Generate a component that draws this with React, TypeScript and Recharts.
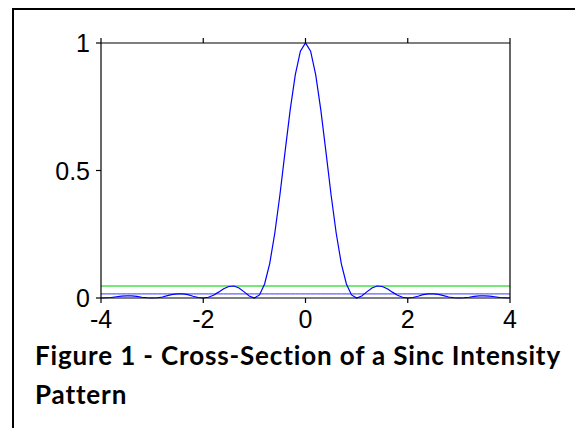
import { LineChart, Line, XAxis, YAxis } from "recharts";

// intensity cross-section, x from -4 to 4 in steps of 0.1
const positions = [
	-4, -3.9, -3.8, -3.7, -3.6, -3.5, -3.4, -3.3, -3.2, -3.1,
	-3, -2.9, -2.8, -2.7, -2.6, -2.5, -2.4, -2.3, -2.2, -2.1,
	-2, -1.9, -1.8, -1.7, -1.6, -1.5, -1.4, -1.3, -1.2, -1.1,
	-1, -0.9, -0.8, -0.7, -0.6, -0.5, -0.4, -0.3, -0.2, -0.1,
	0,
	0.1, 0.2, 0.3, 0.4, 0.5, 0.6, 0.7, 0.8, 0.9, 1,
	1.1, 1.2, 1.3, 1.4, 1.5, 1.6, 1.7, 1.8, 1.9, 2,
	2.1, 2.2, 2.3, 2.4, 2.5, 2.6, 2.7, 2.8, 2.9, 3,
	3.1, 3.2, 3.3, 3.4, 3.5, 3.6, 3.7, 3.8, 3.9, 4,
];

const intensity = [
	0, 0.001, 0.002, 0.005, 0.007, 0.008, 0.008, 0.006, 0.003, 0.001,
	0, 0.001, 0.004, 0.009, 0.014, 0.016, 0.016, 0.013, 0.007, 0.002,
	0, 0.003, 0.011, 0.023, 0.036, 0.045, 0.047, 0.039, 0.024, 0.008,
	0, 0.012, 0.055, 0.135, 0.255, 0.405, 0.573, 0.737, 0.875, 0.968,
	1,
	0.968, 0.875, 0.737, 0.573, 0.405, 0.255, 0.135, 0.055, 0.012, 0,
	0.008, 0.024, 0.039, 0.047, 0.045, 0.036, 0.023, 0.011, 0.003, 0,
	0.002, 0.007, 0.013, 0.016, 0.016, 0.014, 0.009, 0.004, 0.001, 0,
	0.001, 0.003, 0.006, 0.008, 0.008, 0.007, 0.005, 0.002, 0.001, 0,
];

// horizontal reference levels (first and second side-lobe heights)
const firstLobeLevel = 0.047;
const secondLobeLevel = 0.016;

const xTicks = [-4, -2, 0, 2, 4];
const yTicks = [0, 0.5, 1];

const data = positions.map((x, i) => ({
	x,
	intensity: intensity[i],
	first: firstLobeLevel,
	second: secondLobeLevel,
}));

const FONT = "'Liberation Sans', Arial, sans-serif";
const TICK_SIZE = 25;
const axisStroke = { stroke: "#000", strokeWidth: 1.2 };

function BottomTick(props: any) {
	const { x, y, payload } = props;
	return (
		<text x={x} y={y} dy="0.72em" textAnchor="middle" fontFamily={FONT} fontSize={TICK_SIZE} fill="#000">
			{payload.value}
		</text>
	);
}

function LeftTick(props: any) {
	const { x, y, payload } = props;
	return (
		<text x={x} y={y} dy="0.36em" textAnchor="end" fontFamily={FONT} fontSize={TICK_SIZE} fill="#000">
			{payload.value}
		</text>
	);
}

export default function App() {
	return (
		<div style={{ position: "absolute", left: 0, top: 0, width: 575, height: 428, background: "#fff", overflow: "hidden" }}>
			<div
				style={{
					position: "absolute",
					left: 12,
					top: 8,
					width: 575,
					height: 440,
					borderTop: "2px solid #000",
					borderLeft: "2px solid #000",
				}}
			/>
			<div style={{ position: "absolute", left: 0, top: 0 }}>
				<LineChart width={575} height={340} data={data} margin={{ top: 33, right: 55, left: 0, bottom: 0 }}>
					<XAxis
						xAxisId="bottom"
						dataKey="x"
						type="number"
						domain={[-4, 4]}
						ticks={xTicks}
						height={42}
						tickSize={5}
						tickMargin={7}
						tick={<BottomTick />}
						axisLine={axisStroke}
						tickLine={axisStroke}
					/>
					<XAxis
						xAxisId="top"
						orientation="top"
						dataKey="x"
						type="number"
						domain={[-4, 4]}
						ticks={xTicks}
						height={10}
						tickSize={5}
						tickFormatter={() => ""}
						axisLine={axisStroke}
						tickLine={axisStroke}
					/>
					<YAxis
						yAxisId="left"
						type="number"
						domain={[0, 1]}
						ticks={yTicks}
						width={101}
						tickSize={5}
						tickMargin={6}
						tick={<LeftTick />}
						axisLine={axisStroke}
						tickLine={axisStroke}
					/>
					<YAxis
						yAxisId="right"
						orientation="right"
						type="number"
						domain={[0, 1]}
						ticks={yTicks}
						width={10}
						tickSize={5}
						tickFormatter={() => ""}
						axisLine={axisStroke}
						tickLine={axisStroke}
					/>
					<Line
						xAxisId="bottom"
						yAxisId="left"
						type="linear"
						dataKey="first"
						stroke="#77e877"
						strokeWidth={2}
						dot={false}
						isAnimationActive={false}
					/>
					<Line
						xAxisId="bottom"
						yAxisId="left"
						type="linear"
						dataKey="second"
						stroke="#3a3aff"
						strokeWidth={1}
						dot={false}
						isAnimationActive={false}
					/>
					<Line
						xAxisId="bottom"
						yAxisId="left"
						type="linear"
						dataKey="intensity"
						stroke="#0000ff"
						strokeWidth={1.2}
						dot={false}
						isAnimationActive={false}
					/>
				</LineChart>
			</div>
			<div
				style={{
					position: "absolute",
					left: 35,
					top: 336,
					fontFamily: "Lato, 'Open Sans', sans-serif",
					fontWeight: 700,
					fontSize: 26,
					letterSpacing: 0.85,
					lineHeight: "39px",
					color: "#000",
					whiteSpace: "nowrap",
				}}
			>
				<div>Figure 1 - Cross-Section of a Sinc Intensity</div>
				<div>Pattern</div>
			</div>
		</div>
	);
}
